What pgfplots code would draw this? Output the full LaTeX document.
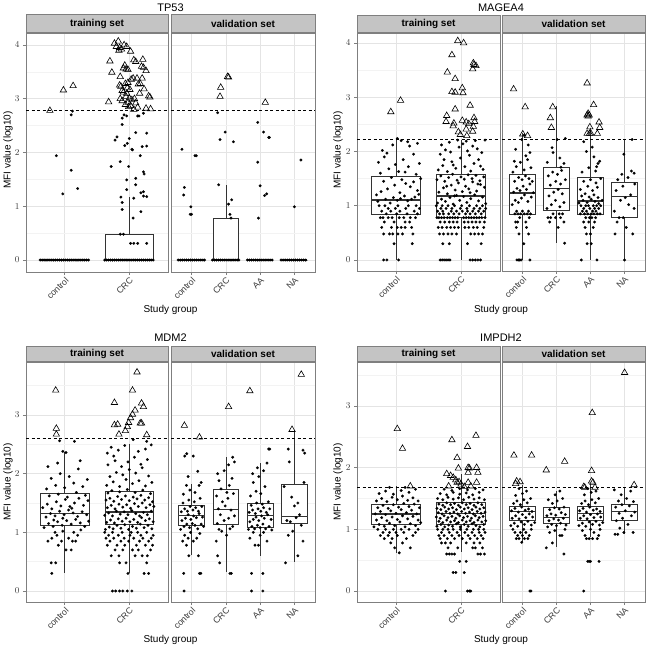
\documentclass[border=0pt]{standalone}
\usepackage{fontspec}
\setmainfont{Liberation Sans}
\usepackage{pgfplots}
\pgfplotsset{compat=1.18}
\usepgfplotslibrary{statistics}

\definecolor{stripgray}{HTML}{C4C4C4}
\definecolor{framegray}{HTML}{7F7F7F}
\definecolor{gridmaj}{HTML}{E4E4E4}
\definecolor{gridmin}{HTML}{F3F3F3}
\definecolor{ticktext}{HTML}{3A3A3A}
\definecolor{boxline}{HTML}{333333}

\pgfplotsset{
  facet/.style={
    scale only axis,
    axis line style={framegray, line width=0.8pt},
    xmajorgrids, ymajorgrids, yminorgrids,
    major grid style={gridmaj, line width=0.7pt},
    minor grid style={gridmin, line width=0.5pt},
    tick align=outside, tick pos=left,
    major tick length=3pt, minor tick length=0pt,
    tick style={framegray, line width=0.6pt},
    ticklabel style={font=\fontsize{8.8}{10}\selectfont, text=ticktext},
    xticklabel style={rotate=45, anchor=north east, inner sep=1pt},
    boxplot/draw direction=y,
    boxplot/box extend=0.75, boxplot/whisker extend=0,
    every axis title shift=0pt,
    title style={at={(0.5,1)}, anchor=south, yshift=0pt,
      fill=stripgray, draw=framegray, line width=0.8pt,
      inner sep=0pt, font=\bfseries\fontsize{10}{11}\selectfont},
  },
  train/.style={facet, xmin=0.4, xmax=2.6, xtick={1,2},
    xticklabels={control,CRC}, title=training set},
  valid/.style={facet, xmin=0.4, xmax=4.6, xtick={1,2,3,4},
    xticklabels={control,CRC,AA,NA}, yticklabels={},
    ytick style={draw=none}, title=validation set},
  dots/.style={only marks, mark=*, mark size=1.35pt, black,
    mark options={line width=0.2pt}},
  tris/.style={only marks, mark=triangle, mark size=3.7pt, black,
    mark options={line width=0.6pt}},
  bx/.style={boxplot prepared={#1}, draw=boxline, fill=white,
    line width=0.7pt, boxplot/every median/.style={line width=1.6pt}},
  cut/.style={black, line width=0.6pt, dash pattern=on 3pt off 2.5pt},
}

\begin{document}
\begin{tikzpicture}
\path[use as bounding box] (0,0) rectangle (648pt,-648pt);

% ---------------- TP53 ----------------
\begin{axis}[train, at={(26pt,-33pt)}, anchor=north west,
  width=142pt, height=239pt, ymin=-0.223, ymax=4.223,
  ytick={0,1,2,3,4}, minor ytick={0.5,1.5,2.5,3.5},
  title style={minimum width=142pt, minimum height=18pt}]
\addplot[bx={draw position=1,lower whisker=0,lower quartile=0,median=0,upper quartile=0,upper whisker=0}] coordinates {};
\addplot[bx={draw position=2,lower whisker=0,lower quartile=0,median=0,upper quartile=0.48,upper whisker=1.18}] coordinates {};
\addplot[dots] coordinates {
(0.62,0)(0.65,0)(0.68,0)(0.71,0)(0.74,0)(0.77,0)(0.80,0)(0.83,0)(0.86,0)(0.89,0)(0.92,0)(0.95,0)(0.98,0)
(1.01,0)(1.04,0)(1.07,0)(1.10,0)(1.13,0)(1.16,0)(1.19,0)(1.22,0)(1.25,0)(1.28,0)(1.31,0)(1.34,0)(1.37,0)
(0.87,1.94)(0.97,1.23)(1.10,1.67)(1.20,1.33)(1.10,2.70)(1.12,2.77)
(1.62,0)(1.65,0)(1.68,0)(1.71,0)(1.74,0)(1.77,0)(1.80,0)(1.83,0)(1.86,0)(1.89,0)(1.92,0)(1.95,0)(1.98,0)
(2.01,0)(2.04,0)(2.07,0)(2.10,0)(2.13,0)(2.16,0)(2.19,0)(2.22,0)(2.25,0)(2.28,0)(2.31,0)(2.34,0)(2.37,0)
(2.02,0.31)(2.07,0.31)(2.13,0.31)(2.27,0.31)(1.86,0.48)(1.91,0.48)
(1.89,0.94)(1.89,1.07)(1.87,1.17)(2.06,0.78)(2.18,0.90)(2.07,1.15)(2.18,1.25)(2.22,1.27)(2.27,1.18)
(2.22,1.19)(2.10,1.40)(1.96,1.31)(1.96,1.49)(2.10,1.52)(2.22,1.64)(2.23,1.60)(2.17,1.94)(1.99,1.74)
(1.72,1.74)(1.78,2.23)(1.86,1.83)(1.97,2.17)(1.93,2.13)(2.00,2.26)(2.04,2.06)(2.05,2.05)(2.10,2.37)
(2.20,2.11)(2.27,2.12)(2.27,2.36)(1.89,2.64)(1.89,2.52)(1.92,2.70)(1.96,2.68)(2.13,2.68)(2.15,2.68)
(2.22,2.73)(1.81,2.29)
};
\addplot[tris] coordinates {
(0.77,2.78)(0.98,3.16)(1.13,3.24)
(1.77,4.03)(1.80,3.97)(1.83,4.07)(1.85,3.95)(1.88,3.92)(1.92,4.00)(1.96,3.97)(2.02,3.88)(1.70,3.70)
(1.73,3.49)(1.86,3.41)(1.91,3.57)(1.93,3.62)(1.95,3.55)(1.98,3.54)(2.07,3.72)(2.10,3.69)(2.21,3.73)
(2.19,3.60)(2.22,3.58)(2.26,3.52)(2.23,3.18)(2.30,3.05)(2.32,3.03)(1.85,3.25)(1.87,3.23)(1.89,3.15)
(1.91,3.12)(1.94,3.28)(1.97,3.20)(1.98,3.30)(2.03,3.36)(2.06,3.38)(2.12,3.38)(2.14,3.27)(2.17,3.28)
(2.20,3.38)(1.68,2.94)(1.86,3.00)(1.89,2.96)(1.95,3.04)(2.00,3.01)(2.04,2.98)(1.94,2.89)(1.99,2.85)
(2.02,2.87)(2.07,2.80)(2.10,2.92)(2.13,2.84)(2.26,2.82)(2.33,2.81)(1.96,3.10)(2.01,3.17)(1.84,3.90)
(1.98,2.93)(2.08,3.00)(2.16,3.10)
};
\addplot[cut] coordinates {(0.4,2.78)(2.6,2.78)};
\end{axis}

\begin{axis}[valid, at={(171pt,-33pt)}, anchor=north west,
  width=144pt, height=239pt, ymin=-0.223, ymax=4.223,
  ytick={0,1,2,3,4}, minor ytick={0.5,1.5,2.5,3.5},
  title style={minimum width=144pt, minimum height=18pt}]
\addplot[bx={draw position=1,lower whisker=0,lower quartile=0,median=0,upper quartile=0,upper whisker=0}] coordinates {};
\addplot[bx={draw position=2,lower whisker=0,lower quartile=0,median=0,upper quartile=0.78,upper whisker=1.40}] coordinates {};
\addplot[bx={draw position=3,lower whisker=0,lower quartile=0,median=0,upper quartile=0,upper whisker=0}] coordinates {};
\addplot[bx={draw position=4,lower whisker=0,lower quartile=0,median=0,upper quartile=0,upper whisker=0}] coordinates {};
\addplot[dots] coordinates {
(0.61,0)(0.67,0)(0.73,0)(0.79,0)(0.85,0)(0.91,0)(0.97,0)(1.03,0)(1.09,0)(1.15,0)(1.21,0)(1.27,0)(1.33,0)(1.38,0)
(0.72,2.06)(0.79,1.35)(0.77,1.21)(0.98,0.99)(0.96,0.85)(1.00,0.85)(1.10,1.94)(1.14,1.94)
(1.61,0)(1.67,0)(1.73,0)(1.79,0)(1.85,0)(1.91,0)(1.97,0)(2.03,0)(2.09,0)(2.15,0)(2.21,0)(2.27,0)(2.33,0)(2.38,0)
(1.76,2.74)(1.98,2.38)(1.83,2.24)(2.22,2.20)(1.79,1.40)(2.08,1.04)(2.17,1.12)(2.12,0.85)(2.15,0.78)
(2.63,0)(2.69,0)(2.75,0)(2.81,0)(2.87,0)(2.93,0)(2.99,0)(3.05,0)(3.11,0)(3.17,0)(3.23,0)(3.29,0)(3.35,0)
(2.93,2.56)(3.10,2.38)(3.27,2.28)(3.25,2.28)(2.93,1.82)(3.00,1.38)(3.13,1.20)(3.19,1.23)(2.95,0.78)
(3.61,0)(3.67,0)(3.73,0)(3.79,0)(3.85,0)(3.91,0)(3.97,0)(4.03,0)(4.09,0)(4.15,0)(4.21,0)(4.27,0)(4.33,0)
(4.00,0.99)(4.19,1.86)
};
\addplot[tris] coordinates {
(1.85,3.21)(1.83,3.04)(2.05,3.41)(2.08,3.40)(3.15,2.93)
};
\addplot[cut] coordinates {(0.4,2.78)(4.6,2.78)};
\end{axis}

% ---------------- MAGEA4 ----------------
\begin{axis}[train, at={(357pt,-33pt)}, anchor=north west,
  width=143pt, height=238pt, ymin=-0.203, ymax=4.184,
  ytick={0,1,2,3,4}, minor ytick={0.5,1.5,2.5,3.5},
  title style={minimum width=143pt, minimum height=17pt}]
\addplot[bx={draw position=1,lower whisker=0,lower quartile=0.85,median=1.11,upper quartile=1.535,upper whisker=2.22}] coordinates {};
\addplot[bx={draw position=2,lower whisker=0,lower quartile=0.78,median=1.18,upper quartile=1.585,upper whisker=2.22}] coordinates {};
\addplot[dots] coordinates {
(0.81,0)(0.86,0)(1.04,0)(0.97,0.30)(1.25,0.30)
(0.81,0.48)(0.90,0.48)(0.95,0.48)(1.03,0.48)(1.10,0.48)(1.26,0.48)
(0.78,0.60)(0.93,0.60)(1.02,0.60)(1.08,0.60)(1.14,0.60)(1.24,0.60)
(0.82,0.70)(0.97,0.70)(1.14,0.70)(1.21,0.70)
(0.76,0.78)(0.80,0.78)(0.88,0.78)(0.94,0.78)(1.05,0.78)(1.12,0.78)(1.22,0.78)(1.30,0.78)
(0.85,0.85)(1.01,0.85)(1.17,0.85)(1.33,0.85)(0.78,0.90)(0.92,0.90)(1.06,0.90)(1.28,0.90)
(0.88,0.95)(0.99,0.95)(1.15,0.95)(1.36,0.95)(0.74,1.00)(0.83,1.00)(1.03,1.00)(1.19,1.00)(1.31,1.00)
(0.72,1.08)(0.84,1.12)(0.91,1.05)(0.96,1.15)(1.02,1.10)(1.07,1.13)(1.13,1.18)(1.18,1.09)(1.24,1.12)
(1.29,1.16)(1.35,1.21)(0.77,1.26)(0.87,1.31)(0.98,1.38)(1.06,1.24)(1.15,1.41)(1.22,1.35)(1.33,1.28)
(0.81,1.45)(0.93,1.52)(1.09,1.48)(1.27,1.44)(1.38,1.50)(0.70,1.20)
(0.76,1.60)(0.89,1.68)(1.04,1.63)(1.19,1.72)(1.31,1.58)(0.73,1.80)(0.82,1.90)(0.99,1.76)(1.11,1.85)
(1.27,1.95)(1.36,1.78)(0.79,2.02)(0.95,2.12)(1.08,2.20)(1.21,2.10)(1.33,2.15)(1.02,2.24)(1.18,2.18)
(0.86,1.97)(1.14,1.62)
(1.68,0)(1.71,0)(1.74,0)(1.77,0)(1.80,0)(1.83,0)(2.14,0)(2.18,0)(2.22,0)(2.26,0)(2.30,0)
(1.72,0.30)(1.82,0.30)(2.31,0.30)(2.10,0.30)
(1.67,0.48)(1.73,0.48)(1.80,0.48)(1.86,0.48)(1.93,0.48)(2.15,0.48)(2.21,0.48)(2.27,0.48)(2.33,0.48)
(1.65,0.60)(1.71,0.60)(1.78,0.60)(1.84,0.60)(1.90,0.60)(1.96,0.60)(2.06,0.60)(2.12,0.60)(2.19,0.60)(2.25,0.60)(2.35,0.60)
(1.68,0.70)(1.75,0.70)(1.82,0.70)(1.88,0.70)(1.94,0.70)(2.05,0.70)(2.11,0.70)(2.17,0.70)(2.23,0.70)(2.29,0.70)(2.36,0.70)
(1.63,0.78)(1.66,0.78)(1.70,0.78)(1.74,0.78)(1.79,0.78)(1.83,0.78)(1.87,0.78)(1.91,0.78)(1.95,0.78)
(2.04,0.78)(2.08,0.78)(2.12,0.78)(2.16,0.78)(2.20,0.78)(2.24,0.78)(2.28,0.78)(2.32,0.78)(2.37,0.78)
(1.67,0.85)(1.73,0.85)(1.81,0.85)(1.89,0.85)(1.97,0.85)(2.07,0.85)(2.14,0.85)(2.22,0.85)(2.31,0.85)
(1.64,0.90)(1.72,0.90)(1.85,0.90)(1.93,0.90)(2.02,0.90)(2.10,0.90)(2.18,0.90)(2.27,0.90)(2.35,0.90)
(1.69,0.95)(1.77,0.95)(1.86,0.95)(1.99,0.95)(2.09,0.95)(2.20,0.95)(2.29,0.95)(2.38,0.95)
(1.62,1.00)(1.71,1.00)(1.80,1.00)(1.90,1.00)(2.01,1.00)(2.13,1.00)(2.24,1.00)(2.33,1.00)
(1.64,1.05)(1.70,1.12)(1.76,1.08)(1.83,1.15)(1.88,1.03)(1.93,1.19)(1.98,1.10)(2.04,1.17)(2.09,1.06)
(2.15,1.13)(2.21,1.20)(2.27,1.09)(2.33,1.16)(2.38,1.04)(1.66,1.25)(1.73,1.33)(1.79,1.22)(1.85,1.38)
(1.91,1.29)(1.96,1.42)(2.02,1.26)(2.07,1.36)(2.12,1.31)(2.18,1.44)(2.24,1.27)(2.30,1.39)(2.36,1.34)
(1.63,1.48)(1.69,1.55)(1.75,1.45)(1.81,1.52)(1.87,1.58)(1.94,1.47)(2.00,1.53)(2.05,1.49)(2.11,1.57)
(2.17,1.50)(2.23,1.56)(2.29,1.46)(2.35,1.53)(1.78,1.36)(2.26,1.40)(1.90,1.18)(2.14,1.24)
(1.65,1.66)(1.72,1.74)(1.79,1.63)(1.86,1.81)(1.92,1.69)(1.99,1.88)(2.06,1.72)(2.13,1.93)(2.20,1.78)
(2.27,1.85)(2.34,1.67)(1.68,1.95)(1.76,2.03)(1.84,1.99)(1.97,2.08)(2.03,2.14)(2.10,2.01)(2.18,2.10)
(2.25,2.05)(2.32,1.98)(1.70,2.12)(1.82,2.17)(1.95,2.21)(2.08,2.19)(2.22,2.20)(2.37,2.21)(1.88,1.75)
(2.15,1.64)(2.30,1.73)(1.74,1.85)
};
\addplot[tris] coordinates {
(0.92,2.73)(1.07,2.94)
(1.95,4.04)(2.04,4.00)(1.86,3.78)(1.79,3.46)(1.91,3.34)(1.86,3.10)(1.91,3.09)(2.02,3.17)(2.03,3.08)
(2.19,3.63)(2.20,3.60)(2.23,3.58)(2.18,3.52)(1.91,2.78)(2.14,2.85)(1.78,2.66)(1.77,2.55)(1.89,2.52)
(1.88,2.47)(2.02,2.57)(2.08,2.54)(2.12,2.51)(2.20,2.62)(2.21,2.55)(2.19,2.46)(2.18,2.37)(2.08,2.41)
(1.96,2.36)(1.99,2.31)(2.09,2.29)
};
\addplot[cut] coordinates {(0.4,2.22)(2.6,2.22)};
\end{axis}

\begin{axis}[valid, at={(502pt,-33pt)}, anchor=north west,
  width=143pt, height=238pt, ymin=-0.203, ymax=4.184,
  ytick={0,1,2,3,4}, minor ytick={0.5,1.5,2.5,3.5},
  title style={minimum width=143pt, minimum height=17pt}]
\addplot[bx={draw position=1,lower whisker=0,lower quartile=0.85,median=1.24,upper quartile=1.58,upper whisker=2.34}] coordinates {};
\addplot[bx={draw position=2,lower whisker=0.31,lower quartile=0.91,median=1.32,upper quartile=1.71,upper whisker=2.83}] coordinates {};
\addplot[bx={draw position=3,lower whisker=0,lower quartile=0.85,median=1.09,upper quartile=1.52,upper whisker=2.43}] coordinates {};
\addplot[bx={draw position=4,lower whisker=0,lower quartile=0.79,median=1.17,upper quartile=1.43,upper whisker=2.22}] coordinates {};
\addplot[dots] coordinates {
(0.84,0)(0.88,0)(0.92,0)(0.96,0)(1.22,0)(1.04,0.30)(0.90,0.48)(1.18,0.48)(0.82,0.60)(1.12,0.60)
(0.80,0.70)(0.86,0.70)(1.10,0.70)(0.92,0.78)(1.20,0.78)
(0.78,0.85)(0.87,0.85)(0.95,0.85)(1.05,0.85)(1.14,0.85)(1.24,0.85)(0.83,0.90)(1.00,0.90)(1.18,0.90)
(0.70,1.02)(0.79,1.10)(0.88,1.06)(0.97,1.14)(1.06,1.20)(1.16,1.08)(1.26,1.16)(0.74,1.25)(0.84,1.32)
(0.93,1.28)(1.02,1.36)(1.12,1.30)(1.22,1.40)(1.32,1.24)(0.77,1.45)(0.89,1.52)(0.99,1.48)(1.09,1.55)
(1.19,1.50)(1.29,1.45)
(0.72,1.62)(0.82,1.72)(0.94,1.80)(1.05,1.66)(1.15,1.85)(1.25,1.70)(0.76,1.82)(1.10,1.92)(1.22,1.98)
(0.80,2.04)(1.17,2.12)(0.98,2.22)(1.05,2.30)
(2.24,0.31)(2.05,0.60)(1.80,0.70)(2.22,0.70)(1.75,0.78)(1.83,0.78)(1.97,0.78)(2.12,0.78)
(1.90,0.85)(2.08,0.85)(2.18,0.85)
(1.72,0.95)(1.85,1.02)(1.97,1.10)(2.10,0.98)(2.22,1.06)(1.78,1.18)(1.92,1.25)(2.05,1.30)(2.17,1.22)
(1.82,1.38)(1.98,1.45)(2.12,1.40)(2.26,1.48)(1.76,1.55)(1.89,1.62)(2.03,1.58)(2.15,1.65)
(1.73,1.80)(1.90,1.98)(2.10,1.88)(2.22,1.78)(1.87,2.07)(2.02,2.22)(2.26,2.24)(2.13,1.71)
(2.73,0)(3.19,0)(2.90,0.30)(3.02,0.30)(2.88,0.48)(3.00,0.48)(2.84,0.60)(3.08,0.60)
(2.80,0.70)(2.95,0.70)(3.12,0.70)(2.86,0.78)(2.97,0.78)(3.04,0.78)(3.15,0.78)
(2.70,0.85)(2.82,0.85)(2.92,0.85)(3.02,0.85)(3.10,0.85)(3.20,0.85)(3.28,0.85)
(2.76,0.90)(2.88,0.90)(3.06,0.90)(3.16,0.90)(2.80,0.95)(2.98,0.95)(3.12,0.95)(3.24,0.95)
(2.72,1.00)(2.86,1.00)(2.94,1.00)(3.08,1.00)(3.18,1.00)(3.30,1.00)
(2.66,1.05)(2.78,1.10)(2.90,1.06)(3.02,1.12)(3.13,1.08)(3.24,1.04)(3.34,1.10)(2.74,1.18)(2.84,1.22)
(2.96,1.16)(3.10,1.20)(3.22,1.15)(2.70,1.30)(2.92,1.36)(3.06,1.28)(3.20,1.34)(2.80,1.45)(3.00,1.48)
(3.16,1.42)(3.30,1.50)
(2.75,1.62)(2.95,1.70)(3.15,1.64)(3.22,1.78)(3.27,1.82)(3.10,1.90)(2.88,2.00)(3.05,2.08)(2.80,2.18)
(3.18,1.72)
(4.00,0)(3.72,0.48)(4.24,0.48)(4.05,0.60)(3.78,0.70)(3.84,0.78)(3.96,0.78)(3.70,0.90)(4.28,0.95)
(4.12,1.02)(3.88,1.10)(4.02,1.15)(4.18,1.20)(3.75,1.28)(3.95,1.36)(4.30,1.40)(3.80,1.48)(4.10,1.52)
(4.28,1.60)(3.92,1.58)(4.20,1.64)(3.98,1.95)(4.22,2.22)
};
\addplot[tris] coordinates {
(0.74,3.15)(1.08,2.82)(1.01,2.32)(1.15,2.29)
(1.89,2.82)(1.82,2.62)(1.85,2.44)
(2.90,3.26)(3.09,2.86)(2.93,2.70)(2.90,2.67)(2.96,2.67)(2.93,2.65)(2.98,2.45)(3.25,2.54)(3.27,2.44)
(2.90,2.33)(2.97,2.33)(3.01,2.33)(3.20,2.33)
};
\addplot[cut] coordinates {(0.4,2.22)(4.6,2.22)};
\end{axis}

% ---------------- MDM2 ----------------
\begin{axis}[train, at={(26pt,-362pt)}, anchor=north west,
  width=142pt, height=240pt, ymin=-0.1875, ymax=3.903,
  ytick={0,1,2,3}, minor ytick={0.5,1.5,2.5,3.5},
  title style={minimum width=142pt, minimum height=15pt}]
\addplot[bx={draw position=1,lower whisker=0.30,lower quartile=1.12,median=1.32,upper quartile=1.66,upper whisker=2.37}] coordinates {};
\addplot[bx={draw position=2,lower whisker=0.30,lower quartile=1.14,median=1.35,upper quartile=1.70,upper whisker=2.50}] coordinates {};
\addplot[dots] coordinates {
(0.80,0.30)(0.79,0.48)(0.86,0.48)(1.02,0.70)(1.10,0.70)(0.90,0.78)(0.95,0.85)(1.12,0.85)(1.17,0.85)
(0.74,0.85)(0.80,0.90)(0.88,0.95)(1.06,0.90)(1.20,0.95)(0.85,1.00)(0.97,1.02)(1.14,1.00)(1.25,1.04)
(0.68,1.08)(0.75,1.15)(0.82,1.10)(0.89,1.18)(0.96,1.12)(1.03,1.20)(1.10,1.14)(1.17,1.22)(1.24,1.16)
(1.31,1.10)(1.37,1.19)(0.71,1.26)(0.78,1.32)(0.85,1.28)(0.92,1.36)(0.99,1.30)(1.06,1.38)(1.13,1.33)
(1.20,1.27)(1.27,1.35)(1.34,1.30)(0.66,1.42)(0.73,1.48)(0.80,1.40)(0.87,1.52)(0.94,1.45)(1.01,1.56)
(1.08,1.44)(1.15,1.50)(1.22,1.58)(1.29,1.46)(1.36,1.54)(0.76,1.62)(0.90,1.65)(1.04,1.60)(1.18,1.68)
(1.32,1.63)(0.97,1.24)(1.11,1.41)(0.83,1.21)
(0.72,1.74)(0.86,1.80)(1.00,1.76)(1.14,1.84)(1.28,1.78)(0.79,1.92)(0.93,2.00)(1.07,1.95)(1.21,2.08)
(1.35,1.90)(0.74,2.12)(0.89,2.18)(1.24,2.22)(0.97,2.38)(1.02,2.36)(1.15,2.55)(0.92,2.56)
(1.74,0)(1.79,0)(1.85,0)(1.90,0)(1.97,0)(2.04,0)(2.23,0.30)(2.30,0.30)(1.98,0.30)
(1.85,0.48)(1.95,0.48)(2.27,0.48)(1.72,0.60)(1.84,0.60)(2.09,0.60)(2.20,0.60)(2.28,0.60)
(1.78,0.70)(1.90,0.70)(2.05,0.70)(2.14,0.70)(2.33,0.70)(1.66,0.78)(1.81,0.78)(1.93,0.78)(2.11,0.78)
(2.25,0.78)(2.36,0.78)(1.70,0.85)(1.87,0.85)(1.99,0.85)(2.16,0.85)(2.30,0.85)
(1.64,0.90)(1.76,0.90)(1.92,0.90)(2.07,0.90)(2.21,0.90)(2.34,0.90)(1.68,0.95)(1.83,0.95)(2.01,0.95)
(2.18,0.95)(2.37,0.95)(1.62,1.00)(1.74,1.00)(1.89,1.00)(2.03,1.00)(2.13,1.00)(2.27,1.00)
(1.63,1.05)(1.69,1.09)(1.75,1.06)(1.81,1.12)(1.87,1.07)(1.93,1.13)(1.99,1.05)(2.05,1.10)(2.11,1.07)
(2.17,1.14)(2.23,1.08)(2.29,1.12)(2.35,1.06)
(1.65,1.17)(1.71,1.21)(1.77,1.16)(1.83,1.23)(1.89,1.19)(1.95,1.24)(2.01,1.18)(2.07,1.22)(2.13,1.17)
(2.19,1.25)(2.25,1.20)(2.31,1.23)(2.37,1.18)
(1.62,1.29)(1.68,1.33)(1.74,1.28)(1.80,1.36)(1.86,1.31)(1.92,1.35)(1.98,1.30)(2.04,1.37)(2.10,1.32)
(2.16,1.28)(2.22,1.34)(2.28,1.30)(2.34,1.36)
(1.66,1.42)(1.72,1.46)(1.78,1.40)(1.84,1.48)(1.90,1.43)(1.96,1.47)(2.02,1.41)(2.08,1.49)(2.14,1.44)
(2.20,1.50)(2.26,1.42)(2.32,1.47)(2.38,1.44)
(1.64,1.55)(1.70,1.58)(1.76,1.53)(1.82,1.61)(1.88,1.56)(1.94,1.62)(2.00,1.54)(2.06,1.60)(2.12,1.57)
(2.18,1.63)(2.24,1.55)(2.30,1.59)(2.36,1.52)
(1.67,1.67)(1.73,1.71)(1.85,1.69)(1.97,1.73)(2.09,1.68)(2.21,1.72)(2.33,1.66)
(1.65,1.80)(1.75,1.86)(1.85,1.78)(1.95,1.90)(2.05,1.83)(2.15,1.88)(2.25,1.79)(2.35,1.85)(1.70,1.95)
(1.80,2.02)(1.90,1.98)(2.00,2.07)(2.10,2.01)(2.20,2.10)(2.30,1.96)(1.67,2.15)(1.78,2.22)(1.88,2.12)
(1.98,2.20)(2.08,2.28)(2.18,2.16)(2.28,2.24)(1.66,2.35)(1.72,2.45)(1.83,2.40)(1.93,2.48)(2.14,2.38)
(2.25,2.42)(2.34,2.49)(2.06,2.58)(2.27,2.55)(1.76,2.30)
};
\addplot[tris] coordinates {
(0.86,3.42)(0.87,2.77)(0.87,2.67)
(2.12,3.73)(2.05,3.42)(1.77,3.21)(2.19,3.20)(2.22,3.14)(2.09,3.08)(2.05,3.01)(2.02,2.95)(1.99,2.87)
(1.97,2.80)(1.94,2.73)(1.77,2.83)(1.82,2.84)(1.84,2.67)(2.17,2.86)(2.19,2.86)(2.27,2.66)
};
\addplot[cut] coordinates {(0.4,2.60)(2.6,2.60)};
\end{axis}

\begin{axis}[valid, at={(171pt,-362pt)}, anchor=north west,
  width=144pt, height=240pt, ymin=-0.1875, ymax=3.903,
  ytick={0,1,2,3}, minor ytick={0.5,1.5,2.5,3.5},
  title style={minimum width=144pt, minimum height=15pt}]
\addplot[bx={draw position=1,lower whisker=0.62,lower quartile=1.12,median=1.29,upper quartile=1.46,upper whisker=1.82}] coordinates {};
\addplot[bx={draw position=2,lower whisker=0.32,lower quartile=1.13,median=1.39,upper quartile=1.73,upper whisker=2.28}] coordinates {};
\addplot[bx={draw position=3,lower whisker=0.60,lower quartile=1.08,median=1.29,upper quartile=1.50,upper whisker=2.19}] coordinates {};
\addplot[bx={draw position=4,lower whisker=0.49,lower quartile=1.16,median=1.27,upper quartile=1.82,upper whisker=2.74}] coordinates {};
\addplot[dots] coordinates {
(0.78,0)(0.77,0.30)(1.23,0.30)(1.27,0.30)(0.92,0.60)(1.20,0.60)(0.85,0.78)(1.05,0.85)(0.74,0.85)
(0.90,0.90)(1.15,0.90)(0.80,0.95)(0.97,1.00)(1.24,0.98)
(0.68,1.05)(0.78,1.10)(0.86,1.14)(0.94,1.08)(1.02,1.15)(1.10,1.12)(1.18,1.06)(1.28,1.14)(1.35,1.10)
(0.72,1.20)(0.82,1.24)(0.90,1.30)(0.98,1.22)(1.06,1.28)(1.14,1.25)(1.22,1.32)(1.32,1.26)(0.70,1.35)
(0.80,1.40)(0.88,1.36)(0.96,1.44)(1.04,1.38)(1.12,1.42)(1.20,1.36)(1.30,1.44)(0.75,1.50)(0.92,1.55)
(1.08,1.52)(1.25,1.58)
(0.76,1.65)(0.95,1.72)(1.10,1.68)(1.22,1.80)(0.85,1.80)(1.28,1.85)(0.90,1.95)(1.18,2.04)(0.80,2.30)
(1.05,2.30)(0.86,2.34)
(2.12,0.30)(2.16,0.30)(1.82,0.48)(1.76,0.60)(1.72,0.85)(2.02,0.95)(1.80,1.05)(1.88,1.02)(2.12,1.06)
(2.20,1.10)(1.75,1.15)(1.95,1.20)(2.08,1.24)(1.84,1.30)(2.25,1.28)(1.78,1.40)(1.98,1.45)(2.15,1.38)
(1.90,1.52)(2.06,1.58)(1.73,1.62)(2.22,1.66)(1.86,1.74)(2.10,1.80)(1.80,1.88)(2.18,1.92)(1.95,2.05)
(2.08,2.15)(2.25,2.20)(2.20,2.28)(1.76,2.00)(2.03,1.68)
(2.75,0)(3.08,0)(2.75,0.30)(3.08,0.30)(2.85,0.78)(2.95,0.78)(3.20,0.85)(2.70,0.90)(3.00,0.95)
(2.80,1.00)(3.10,1.00)
(2.66,1.05)(2.76,1.10)(2.84,1.06)(2.92,1.12)(3.00,1.08)(3.08,1.14)(3.16,1.06)(3.26,1.10)(3.34,1.04)
(2.70,1.18)(2.80,1.22)(2.88,1.26)(2.96,1.20)(3.04,1.28)(3.12,1.24)(3.22,1.30)(3.32,1.22)(2.68,1.34)
(2.78,1.38)(2.86,1.32)(2.94,1.40)(3.02,1.36)(3.10,1.42)(3.18,1.34)(3.28,1.40)(2.74,1.46)(2.90,1.50)
(3.06,1.48)(3.24,1.52)
(2.72,1.62)(2.88,1.70)(3.02,1.66)(3.14,1.78)(2.80,1.85)(2.96,1.95)(3.10,2.05)(2.78,2.00)(3.20,2.18)
(3.25,2.42)(3.28,2.42)(2.92,2.10)
(3.74,0.48)(4.10,0.60)(4.25,0.85)(3.82,0.95)(3.95,1.02)(4.20,1.12)(3.88,1.18)(4.05,1.25)(4.00,1.45)
(4.10,1.50)(3.78,1.20)(4.15,1.30)(3.70,1.78)(4.28,1.85)(3.85,2.20)(4.30,2.35)(3.82,2.42)(4.25,2.40)
(3.92,1.60)
};
\addplot[tris] coordinates {
(0.79,2.82)(1.23,2.62)(2.08,3.14)(2.70,3.41)(4.20,3.69)(3.93,2.75)
};
\addplot[cut] coordinates {(0.4,2.60)(4.6,2.60)};
\end{axis}

% ---------------- IMPDH2 ----------------
\begin{axis}[train, at={(357pt,-362pt)}, anchor=north west,
  width=143pt, height=240pt, ymin=-0.178, ymax=3.713,
  ytick={0,1,2,3}, minor ytick={0.5,1.5,2.5,3.5},
  title style={minimum width=143pt, minimum height=15pt}]
\addplot[bx={draw position=1,lower whisker=0.62,lower quartile=1.08,median=1.245,upper quartile=1.41,upper whisker=1.70}] coordinates {};
\addplot[bx={draw position=2,lower whisker=0.63,lower quartile=1.08,median=1.26,upper quartile=1.44,upper whisker=1.90}] coordinates {};
\addplot[dots] coordinates {
(1.05,0.62)(0.98,0.70)(1.22,0.70)(0.92,0.78)(1.10,0.78)(0.82,0.85)(0.94,0.85)(1.16,0.85)(0.76,0.90)
(0.88,0.90)(1.02,0.90)(1.26,0.90)(0.80,0.95)(0.90,0.95)(1.00,0.95)(1.12,0.95)(1.30,0.95)(0.72,1.00)
(0.84,1.00)(0.96,1.00)(1.08,1.00)(1.20,1.00)(1.34,1.00)
(0.66,1.04)(0.74,1.08)(0.82,1.05)(0.90,1.10)(0.98,1.06)(1.06,1.12)(1.14,1.04)(1.22,1.09)(1.30,1.06)(1.38,1.11)
(0.70,1.15)(0.78,1.19)(0.86,1.14)(0.94,1.20)(1.02,1.16)(1.10,1.22)(1.18,1.17)(1.26,1.21)(1.34,1.15)
(0.68,1.25)(0.76,1.29)(0.84,1.24)(0.92,1.30)(1.00,1.26)(1.08,1.32)(1.16,1.27)(1.24,1.31)(1.32,1.25)
(0.72,1.35)(0.80,1.39)(0.88,1.34)(0.96,1.40)(1.04,1.36)(1.12,1.42)(1.20,1.37)(1.28,1.41)(1.36,1.35)
(0.70,1.46)(0.78,1.50)(0.86,1.45)(0.94,1.52)(1.02,1.48)(1.10,1.54)(1.18,1.47)(1.26,1.51)(1.34,1.46)
(0.74,1.58)(0.84,1.62)(0.96,1.57)(1.08,1.63)(1.20,1.60)(1.30,1.65)(0.90,1.68)(1.14,1.68)
(1.76,0)(2.10,0)(2.13,0)(2.15,0)(1.88,0.30)(1.92,0.30)(2.05,0.30)(1.98,0.48)(2.08,0.48)
(1.78,0.60)(1.82,0.60)(1.86,0.60)(1.90,0.60)(2.26,0.60)(2.30,0.60)(2.36,0.60)
(1.80,0.70)(1.95,0.70)(2.18,0.70)(2.22,0.70)(2.33,0.70)
(1.70,0.78)(1.76,0.78)(1.84,0.78)(2.08,0.78)(2.20,0.78)(2.29,0.78)
(1.68,0.85)(1.79,0.85)(1.90,0.85)(2.02,0.85)(2.14,0.85)(2.25,0.85)(2.34,0.85)
(1.66,0.90)(1.74,0.90)(1.86,0.90)(1.97,0.90)(2.11,0.90)(2.21,0.90)(2.31,0.90)
(1.70,0.95)(1.82,0.95)(1.94,0.95)(2.06,0.95)(2.17,0.95)(2.28,0.95)(2.37,0.95)
(1.64,1.00)(1.72,1.00)(1.80,1.00)(1.88,1.00)(1.99,1.00)(2.09,1.00)(2.19,1.00)(2.27,1.00)(2.35,1.00)
(1.63,1.05)(1.69,1.08)(1.75,1.04)(1.81,1.07)(1.87,1.05)(1.93,1.09)(1.99,1.04)(2.05,1.08)(2.11,1.05)
(2.17,1.09)(2.23,1.06)(2.29,1.04)(2.35,1.08)
(1.66,1.13)(1.72,1.11)(1.78,1.15)(1.84,1.12)(1.90,1.14)(1.96,1.11)(2.02,1.15)(2.08,1.12)(2.14,1.14)
(2.20,1.11)(2.26,1.15)(2.32,1.12)(2.38,1.14)
(1.62,1.20)(1.68,1.18)(1.74,1.22)(1.80,1.19)(1.86,1.21)(1.92,1.18)(1.98,1.22)(2.04,1.19)(2.10,1.21)
(2.16,1.18)(2.22,1.22)(2.28,1.19)(2.34,1.21)
(1.65,1.27)(1.71,1.25)(1.77,1.29)(1.83,1.26)(1.89,1.28)(1.95,1.25)(2.01,1.29)(2.07,1.26)(2.13,1.28)
(2.19,1.25)(2.25,1.29)(2.31,1.26)(2.37,1.28)
(1.63,1.34)(1.69,1.32)(1.75,1.36)(1.81,1.33)(1.87,1.35)(1.93,1.32)(1.99,1.36)(2.05,1.33)(2.11,1.35)
(2.17,1.32)(2.23,1.36)(2.29,1.33)(2.35,1.35)
(1.66,1.41)(1.72,1.39)(1.78,1.43)(1.84,1.40)(1.90,1.42)(1.96,1.39)(2.02,1.43)(2.08,1.40)(2.14,1.42)
(2.20,1.39)(2.26,1.43)(2.32,1.40)
(1.64,1.50)(1.72,1.48)(1.80,1.52)(1.88,1.49)(1.96,1.51)(2.04,1.48)(2.12,1.52)(2.20,1.49)(2.28,1.51)(2.36,1.48)
(1.68,1.58)(1.78,1.56)(1.88,1.60)(1.98,1.57)(2.08,1.59)(2.18,1.56)(2.28,1.60)
(1.74,1.65)(1.86,1.63)(1.98,1.66)(2.10,1.64)(2.22,1.66)(2.34,1.64)
};
\addplot[tris] coordinates {
(1.02,2.63)(1.10,2.31)(1.22,1.70)
(1.86,2.45)(2.23,2.52)(2.10,2.34)(1.94,2.16)(1.96,1.99)(2.11,2.00)(2.13,1.99)(2.24,2.00)(2.26,1.92)
(2.11,1.92)(2.24,1.76)(2.11,1.76)(1.78,1.90)(1.84,1.87)(1.88,1.84)(1.92,1.80)(1.94,1.76)(1.97,1.77)
(2.00,1.73)(1.81,1.70)(2.05,1.69)(2.15,1.70)
};
\addplot[cut] coordinates {(0.4,1.68)(2.6,1.68)};
\end{axis}

\begin{axis}[valid, at={(502pt,-362pt)}, anchor=north west,
  width=143pt, height=240pt, ymin=-0.178, ymax=3.713,
  ytick={0,1,2,3}, minor ytick={0.5,1.5,2.5,3.5},
  title style={minimum width=143pt, minimum height=15pt}]
\addplot[bx={draw position=1,lower whisker=0.79,lower quartile=1.14,median=1.29,upper quartile=1.38,upper whisker=1.72}] coordinates {};
\addplot[bx={draw position=2,lower whisker=0.71,lower quartile=1.09,median=1.19,upper quartile=1.36,upper whisker=1.62}] coordinates {};
\addplot[bx={draw position=3,lower whisker=0.87,lower quartile=1.15,median=1.26,upper quartile=1.38,upper whisker=1.73}] coordinates {};
\addplot[bx={draw position=4,lower whisker=0.92,lower quartile=1.14,median=1.29,upper quartile=1.41,upper whisker=1.68}] coordinates {};
\addplot[dots] coordinates {
(1.22,0)(1.25,0)(0.98,0.79)(0.82,0.85)(0.90,0.85)(1.06,0.85)(1.16,0.85)(0.86,0.90)(1.00,0.90)
(1.20,0.90)(0.78,0.95)(0.94,0.95)(1.10,0.95)(0.72,1.00)(1.04,1.00)(1.26,1.00)
(0.66,1.06)(0.76,1.10)(0.86,1.05)(0.96,1.12)(1.06,1.08)(1.16,1.13)(1.26,1.07)(1.36,1.11)(0.70,1.18)
(0.80,1.22)(0.90,1.17)(1.00,1.24)(1.10,1.19)(1.20,1.25)(1.30,1.20)(0.68,1.30)(0.78,1.34)(0.88,1.28)
(0.98,1.36)(1.08,1.31)(1.18,1.33)(1.28,1.29)(0.74,1.42)(0.84,1.46)(0.94,1.40)(1.04,1.48)(1.14,1.43)
(1.24,1.50)(0.80,1.55)(1.00,1.58)(1.12,1.62)(0.90,1.66)
(1.70,0.70)(2.22,0.60)(1.88,0.78)(2.10,0.90)(2.16,0.90)(1.80,0.95)(1.95,0.98)(2.25,1.00)(1.74,1.04)
(1.86,1.08)(2.00,1.06)(2.12,1.10)(2.28,1.07)(1.78,1.14)(1.92,1.17)(2.06,1.15)(2.20,1.18)(1.72,1.22)
(1.84,1.25)(1.98,1.23)(2.14,1.27)(2.26,1.24)(1.80,1.32)(1.94,1.35)(2.08,1.33)(2.22,1.36)(1.88,1.42)
(2.02,1.46)(2.18,1.50)(1.96,1.56)(2.10,1.62)(1.76,1.48)
(2.80,0)(2.92,0.48)(2.96,0.48)(3.00,0.48)(3.25,0.48)(2.88,0.85)(2.96,0.85)(3.06,0.85)(3.20,0.85)
(3.24,0.90)(2.84,0.90)(3.10,0.95)(2.76,0.98)(3.00,1.00)(3.28,1.00)
(2.66,1.06)(2.76,1.10)(2.86,1.05)(2.96,1.12)(3.06,1.08)(3.16,1.13)(3.26,1.07)(3.36,1.11)(2.70,1.18)
(2.80,1.22)(2.90,1.17)(3.00,1.24)(3.10,1.19)(3.20,1.25)(3.30,1.20)(2.68,1.30)(2.78,1.34)(2.88,1.28)
(2.98,1.36)(3.08,1.31)(3.18,1.33)(3.28,1.29)(2.74,1.42)(2.84,1.46)(2.94,1.40)(3.04,1.48)(3.14,1.43)
(3.24,1.50)(2.82,1.56)(3.02,1.60)(3.16,1.62)(2.92,1.66)
(3.72,0.92)(3.80,0.92)(3.98,0.95)(4.25,0.95)(3.86,1.02)(4.10,1.08)(3.76,1.14)(3.94,1.18)(4.20,1.22)
(3.84,1.26)(4.02,1.30)(4.30,1.28)(3.74,1.36)(3.92,1.40)(4.14,1.38)(3.82,1.46)(4.06,1.50)(4.26,1.45)
(3.90,1.56)(4.18,1.62)(3.70,1.64)
};
\addplot[tris] coordinates {
(0.75,2.20)(1.27,2.20)(0.83,1.78)(0.80,1.74)(0.93,1.77)
(1.70,1.96)(2.24,2.10)
(3.05,2.89)(3.03,1.95)(3.03,1.78)(3.07,1.76)(2.80,1.69)(2.83,1.68)(3.13,1.68)
(4.00,3.54)(4.28,1.72)
};
\addplot[cut] coordinates {(0.4,1.68)(4.6,1.68)};
\end{axis}

% titles and axis labels
\begin{scope}[every node/.style={font=\fontsize{11}{12}\selectfont}]
\node at (170.5pt,-8pt) {TP53};
\node at (501pt,-8pt) {MAGEA4};
\node at (170.5pt,-338pt) {MDM2};
\node at (501pt,-338pt) {IMPDH2};
\end{scope}
\begin{scope}[every node/.style={font=\fontsize{10}{11}\selectfont}]
\node at (170.5pt,-310pt) {Study group};
\node at (501pt,-310pt) {Study group};
\node at (170.5pt,-640pt) {Study group};
\node at (501pt,-640pt) {Study group};
\node[rotate=90] at (8pt,-150pt) {MFI value (log10)};
\node[rotate=90] at (338pt,-150pt) {MFI value (log10)};
\node[rotate=90] at (8pt,-482pt) {MFI value (log10)};
\node[rotate=90] at (338pt,-482pt) {MFI value (log10)};
\end{scope}
\end{tikzpicture}
\end{document}
